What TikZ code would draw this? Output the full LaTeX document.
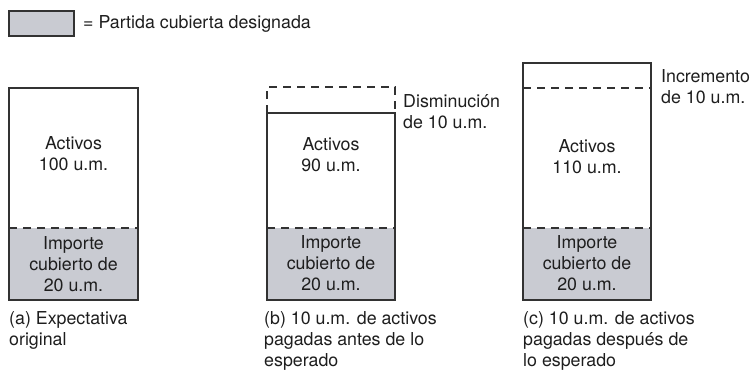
\documentclass[tikz,border=0pt]{standalone}
\usepackage{fontspec}
\setmainfont{TeX Gyre Heros}
\definecolor{cover}{RGB}{201,203,210}
\definecolor{edge}{RGB}{50,50,50}
\definecolor{ink}{RGB}{30,30,30}
\begin{document}
\begin{tikzpicture}[x=1pt,y=-1pt,
  boxline/.style={draw=edge, line width=1.1pt},
  dashln/.style={draw=edge, line width=1.1pt, dash pattern=on 8pt off 6pt},
  lbl/.style={font=\fontsize{17.8}{21}\selectfont, text=ink, align=center, inner sep=0pt},
  captiontxt/.style={lbl, align=left, anchor=north west},
  sidetxt/.style={lbl, align=left, anchor=west}]
\useasboundingbox (0,0) rectangle (751,372);
% legend
\draw[boxline, fill=cover] (9,11) rectangle (74,36);
\node[sidetxt] (legend) at (83,24) {= Partida cubierta designada};
% box (a)
\fill[cover] (9,228) rectangle (138,300);
\draw[dashln] (9,228) -- (138,228);
\draw[boxline] (9,88) rectangle (138,300);
\node[lbl] (actA) at (73.5,154) {Activos\\100 u.m.};
\node[lbl] (impA) at (73.5,264) {Importe\\cubierto de\\20 u.m.};
\node[captiontxt] (capA) at (9,311.5) {(a) Expectativa\\original};
% box (b)
\fill[cover] (267,228) rectangle (395,300);
\draw[dashln] (267,228) -- (395,228);
\draw[boxline] (267,113) rectangle (395,300);
\draw[dashln] (267,113) -- (267,87) -- (395,87) -- (395,113);
\node[lbl] (actB) at (331,155) {Activos\\90 u.m.};
\node[lbl] (impB) at (331,263) {Importe\\cubierto de\\20 u.m.};
\node[sidetxt] (decB) at (403,112) {Disminución\\de 10 u.m.};
\node[captiontxt] (capB) at (264,311.5) {(b) 10 u.m. de activos\\pagadas antes de lo\\esperado};
% box (c)
\fill[cover] (523,228) rectangle (651,300);
\draw[dashln] (523,228) -- (651,228);
\draw[dashln] (523,88) -- (651,88);
\draw[boxline] (523,63) rectangle (651,300);
\node[lbl] (actC) at (587,157) {Activos\\110 u.m.};
\node[lbl] (impC) at (587,263) {Importe\\cubierto de\\20 u.m.};
\node[sidetxt] (incC) at (661,87) {Incremento\\de 10 u.m.};
\node[captiontxt] (capC) at (523,311.5) {(c) 10 u.m. de activos\\pagadas después de\\lo esperado};
\end{tikzpicture}
\end{document}
